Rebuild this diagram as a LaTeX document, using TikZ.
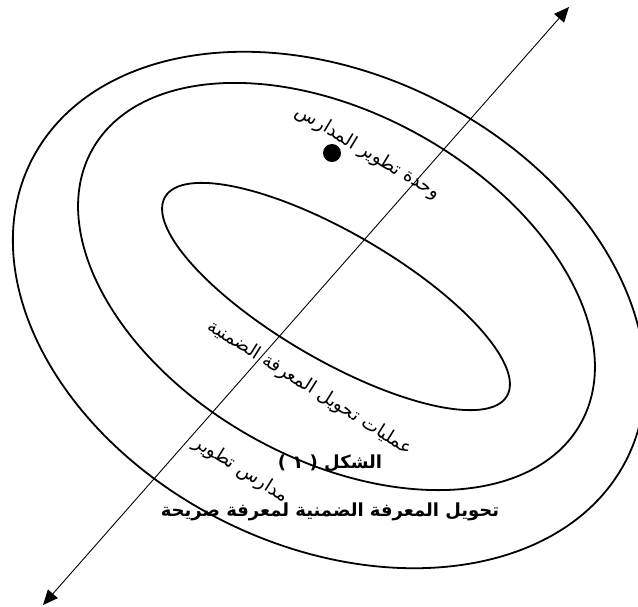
\documentclass[tikz,border=0pt]{standalone}
\usepackage{fontspec}
\newfontfamily\arabicfont[Script=Arabic]{DejaVu Sans}
\TeXXeTstate=1
\usetikzlibrary{arrows.meta}
\begin{document}
\begin{tikzpicture}[x=1pt,y=-1pt,
 ring/.style={line width=1.8pt},
 axisline/.style={line width=0.9pt,{Triangle[length=15pt,width=13pt]}-{Triangle[length=15pt,width=13pt]}},
 lbl/.style={font=\arabicfont\fontsize{18.5}{20}\selectfont, inner sep=0pt},
 ttl/.style={font=\arabicfont\bfseries\fontsize{18}{21}\selectfont, inner sep=0pt}]
\useasboundingbox (0,0) rectangle (638,606);
\draw[ring, rotate around={-26.5:(329,310)}] (329,310) ellipse [x radius=333pt, y radius=236pt];
\draw[ring, rotate around={-29.3:(336.5,286.5)}] (336.5,286.5) ellipse [x radius=280pt, y radius=172.7pt];
\draw[ring, rotate around={-30.2:(336,296.5)}] (336,296.5) ellipse [x radius=197.8pt, y radius=63.5pt];
\coordinate (axtop) at (569,7);
\coordinate (axbot) at (43,605);
\draw[axisline] (axbot) -- (axtop);
\node[circle, fill, minimum size=18pt, inner sep=0pt] (dot) at (332,153) {};
\node[lbl, rotate=-31] (unit) at (368,153) {\beginR وحدة تطوير المدارس\endR};
\node[lbl, rotate=-32] (proc) at (310,388) {\beginR عمليات تحويل المعرفة الضمنية\endR};
\node[lbl, rotate=-32] (schools) at (241,470) {\beginR مدارس تطوير\endR};
\node[ttl] (fig) at (330,463) {\beginR الشكل ( ١ )\endR};
\node[ttl] (title) at (330,512) {\beginR تحويل المعرفة الضمنية لمعرفة صريحة\endR};
\end{tikzpicture}
\end{document}
